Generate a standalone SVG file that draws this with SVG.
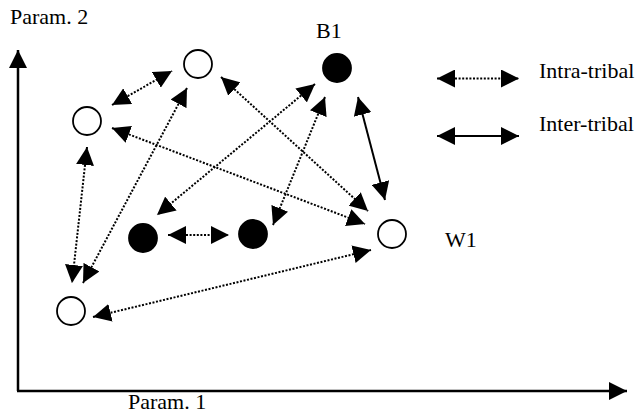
<svg xmlns="http://www.w3.org/2000/svg" width="637" height="414" viewBox="0 0 637 414">
  <style>
    .label { font-family: "Liberation Serif", "Times New Roman", serif; font-size: 22px; fill: #000; }
    .intra { stroke: #000; stroke-width: 2; stroke-dasharray: 2 1.6; fill: none; marker-start: url(#head); marker-end: url(#head); }
    .inter { stroke: #000; stroke-width: 2; fill: none; marker-start: url(#head); marker-end: url(#head); }
    .axis { stroke: #000; stroke-width: 2.5; fill: none; marker-end: url(#head); }
    .open { fill: #fff; stroke: #000; stroke-width: 1.8; }
    .filled { fill: #000; stroke: #000; stroke-width: 1.8; }
  </style>
  <defs>
    <marker id="head" markerUnits="userSpaceOnUse" markerWidth="18" markerHeight="18" viewBox="0 0 17 17" refX="17" refY="8.5" orient="auto-start-reverse">
      <path d="M0,0 L17,8.5 L0,17 Z" fill="#000"/>
    </marker>
  </defs>

  <rect width="637" height="414" fill="#fff"/>

  <!-- axes -->
  <g id="axes">
    <line class="axis" x1="18" y1="391" x2="18" y2="50"/>
    <line class="axis" x1="17" y1="391" x2="627" y2="391"/>
    <text class="label" x="10" y="24">Param. 2</text>
    <text class="label" x="128" y="409">Param. 1</text>
  </g>

  <!-- connectors -->
  <g id="connectors">
    <line class="intra" x1="112" y1="105" x2="172" y2="71"/>
    <line class="intra" x1="87" y1="147" x2="72" y2="283"/>
    <line class="intra" x1="187" y1="88" x2="83" y2="283"/>
    <line class="intra" x1="112" y1="128" x2="365" y2="224"/>
    <line class="intra" x1="221" y1="77" x2="368" y2="211"/>
    <line class="intra" x1="315" y1="84" x2="157" y2="215"/>
    <line class="intra" x1="325" y1="97" x2="273" y2="225"/>
    <line class="inter" x1="358" y1="97" x2="385" y2="200"/>
    <line class="intra" x1="168" y1="235" x2="229" y2="235"/>
    <line class="intra" x1="93" y1="317" x2="371" y2="250"/>
  </g>

  <!-- nodes -->
  <g id="node-a"><circle class="open" cx="87" cy="121" r="14"/></g>
  <g id="node-b"><circle class="open" cx="198" cy="64" r="14"/></g>
  <g id="node-b1">
    <circle class="filled" cx="337" cy="68" r="14"/>
    <text class="label" x="316" y="38">B1</text>
  </g>
  <g id="node-w1">
    <circle class="open" cx="392" cy="234" r="14"/>
    <text class="label" x="445" y="247">W1</text>
  </g>
  <g id="node-c"><circle class="filled" cx="143" cy="238" r="14"/></g>
  <g id="node-d"><circle class="filled" cx="253" cy="234" r="14"/></g>
  <g id="node-e"><circle class="open" cx="71" cy="311" r="14"/></g>

  <!-- legend -->
  <g id="legend">
    <line class="intra" x1="437" y1="78.5" x2="519" y2="78.5"/>
    <text class="label" x="539" y="78">Intra-tribal</text>
    <line class="inter" x1="437" y1="136" x2="519" y2="136"/>
    <text class="label" x="539" y="131">Inter-tribal</text>
  </g>
</svg>
